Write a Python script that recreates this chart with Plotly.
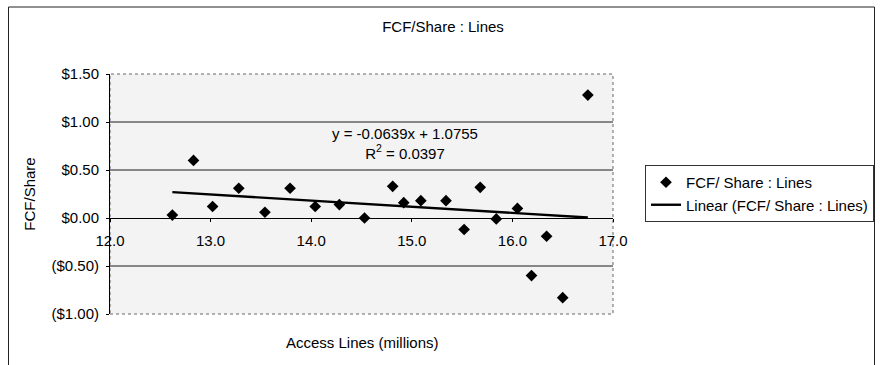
import plotly.graph_objects as go

# Access lines (millions) vs free cash flow per share
access_lines = [12.62, 12.83, 13.02, 13.28, 13.54, 13.79, 14.04, 14.28, 14.53, 14.81, 14.92,
                15.09, 15.34, 15.52, 15.68, 15.84, 16.05, 16.19, 16.34, 16.50, 16.75]
fcf_per_share = [0.03, 0.60, 0.12, 0.31, 0.06, 0.31, 0.12, 0.14, 0.00, 0.33, 0.16,
                 0.18, 0.18, -0.12, 0.32, -0.01, 0.10, -0.60, -0.19, -0.83, 1.28]

# Linear trendline coefficients, as reported in the equation label
trend_slope = -0.0639
trend_intercept = 1.0755
trend_r2 = 0.0397

x_ticks = [12.0, 13.0, 14.0, 15.0, 16.0, 17.0]
x_tick_labels = ["12.0", "13.0", "14.0", "15.0", "16.0", "17.0"]
y_ticks = [-1.0, -0.5, 0.0, 0.5, 1.0, 1.5]
y_tick_labels = ["($1.00)", "($0.50)", "$0.00", "$0.50", "$1.00", "$1.50"]

series_name = "FCF/ Share : Lines"
FONT = "Liberation Sans, Arial, sans-serif"

x_min, x_max = min(access_lines), max(access_lines)
trend_x = [x_min, x_max]
trend_y = [trend_slope * v + trend_intercept for v in trend_x]

fig = go.Figure()
fig.add_trace(go.Scatter(
    x=access_lines, y=fcf_per_share, mode="markers", name=series_name,
    marker=dict(symbol="diamond", size=9, color="black"),
))
fig.add_trace(go.Scatter(
    x=trend_x, y=trend_y, mode="lines", name=f"Linear ({series_name})",
    line=dict(color="black", width=2.4),
))

y_lo, y_hi = y_ticks[0], y_ticks[-1]
x_lo, x_hi = x_ticks[0], x_ticks[-1]
zero_pos = (0 - y_lo) / (y_hi - y_lo)

# plot-area edges in pixels
L, R, T, B = 110, 613, 74, 314
def px_x(p):
    return (p - L) / (R - L)
def px_y(p):
    return (B - p) / (B - T)

shapes = []
# horizontal gridlines inside the plot area (ends are drawn by the border)
for v in y_ticks[1:-1]:
    if v == 0:
        continue
    shapes.append(dict(type="line", xref="paper", yref="y", x0=0, x1=1, y0=v, y1=v,
                       line=dict(color="#1a1a1a", width=1), layer="below"))
# dotted plot-area border
shapes.append(dict(type="rect", xref="paper", yref="paper", x0=0, x1=1, y0=0, y1=1,
                   line=dict(color="#666666", width=1, dash="dot"), layer="below"))
# outer chart frame
shapes.append(dict(type="rect", xref="paper", yref="paper",
                   x0=px_x(8.5), x1=px_x(874.5), y0=px_y(380), y1=px_y(7),
                   line=dict(color="#222222", width=1)))

fig.update_layout(
    width=880, height=365,
    margin=dict(l=L, r=880 - R, t=T, b=365 - B, autoexpand=False),
    paper_bgcolor="white",
    plot_bgcolor="#f3f3f3",
    font=dict(family=FONT, size=15, color="black"),
    title=dict(text="FCF/Share : Lines", x=443 / 880, xanchor="center",
               y=1 - 27 / 365, yanchor="middle", yref="container",
               font=dict(family=FONT, size=15, color="black")),
    showlegend=True,
    legend=dict(x=px_x(645), y=px_y(165), xanchor="left", yanchor="top",
                bgcolor="white", bordercolor="#333333", borderwidth=1,
                font=dict(family=FONT, size=15, color="black"),
                itemwidth=30, tracegroupgap=0),
    shapes=shapes,
    xaxis=dict(
        range=[x_lo, x_hi], tickvals=x_ticks, ticktext=x_tick_labels,
        anchor="free", position=zero_pos,
        showline=True, linecolor="black", linewidth=1,
        ticks="outside", ticklen=3, tickcolor="black",
        ticklabelstandoff=6,
        showgrid=False, zeroline=False,
        tickfont=dict(family=FONT, size=15, color="black"),
    ),
    yaxis=dict(
        range=[y_lo, y_hi], tickvals=y_ticks, ticktext=y_tick_labels,
        showline=True, linecolor="black", linewidth=1,
        ticks="outside", ticklen=3, tickcolor="black",
        ticklabelstandoff=4,
        showgrid=False, zeroline=False,
        tickfont=dict(family=FONT, size=15, color="black"),
        title=dict(text="FCF/Share", standoff=12,
                   font=dict(family=FONT, size=15, color="black")),
    ),
    annotations=[
        dict(text=f"y = {trend_slope}x + {trend_intercept}<br>R<sup>2</sup> = {trend_r2}",
             xref="paper", yref="paper", x=px_x(405), y=px_y(143),
             xanchor="center", yanchor="middle",
             showarrow=False, align="center",
             font=dict(family=FONT, size=15, color="black")),
        dict(text="Access Lines (millions)", xref="paper", yref="paper",
             x=px_x(362), y=px_y(342), xanchor="center", yanchor="middle",
             showarrow=False,
             font=dict(family=FONT, size=15, color="black")),
    ],
)

fig.write_html("out.html")
